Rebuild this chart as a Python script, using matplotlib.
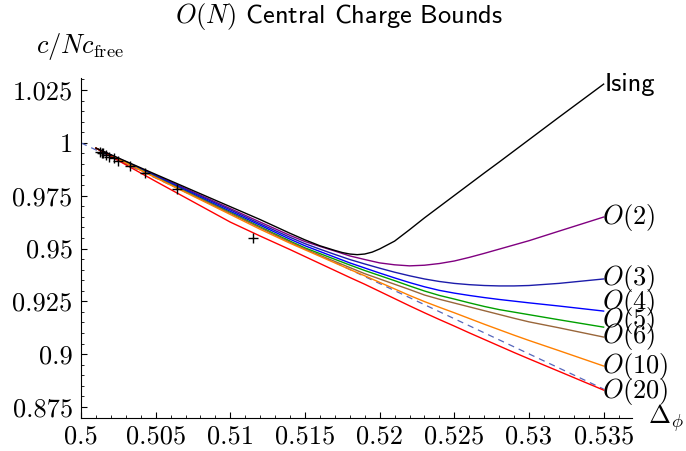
import matplotlib
matplotlib.use("Agg")
import matplotlib.pyplot as plt
from matplotlib.ticker import FixedLocator, MultipleLocator

plt.rcParams['mathtext.fontset'] = 'cm'
plt.rcParams['font.family'] = 'cmr10'
plt.rcParams['axes.unicode_minus'] = False

# Delta_phi grid the bounds were read on
x_grid = [0.501, 0.505, 0.510, 0.512, 0.514, 0.515, 0.516, 0.517, 0.518, 0.519,
          0.520, 0.521, 0.522, 0.523, 0.524, 0.525, 0.526, 0.527, 0.528, 0.529,
          0.530, 0.532, 0.535]

x_ising = [0.501, 0.505, 0.510, 0.512, 0.514, 0.515, 0.516, 0.517, 0.5175, 0.518, 0.5185,
           0.519, 0.5195, 0.520, 0.521, 0.522, 0.523, 0.524, 0.525, 0.526, 0.527, 0.528,
           0.529, 0.530, 0.532, 0.535]
c_ising = [0.9975, 0.9851, 0.9698, 0.9637, 0.9572, 0.9541, 0.9513, 0.9491, 0.9481, 0.9474, 0.9471,
           0.9474, 0.9483, 0.9498, 0.9535, 0.9589, 0.9645, 0.9698, 0.9751, 0.9804, 0.9857, 0.9909,
           0.9962, 1.0015, 1.0121, 1.0278]

c_o2 = [0.9975, 0.9847, 0.9689, 0.9625, 0.9562, 0.9533, 0.9510, 0.9488, 0.9465, 0.9448,
        0.9432, 0.9423, 0.9418, 0.9421, 0.9429, 0.9441, 0.9458, 0.9477, 0.9497, 0.9517,
        0.9537, 0.9582, 0.9649]
c_o3 = [0.9975, 0.9844, 0.9683, 0.9617, 0.9553, 0.9523, 0.9497, 0.9472, 0.9448, 0.9427,
        0.9407, 0.9388, 0.9371, 0.9356, 0.9344, 0.9335, 0.9329, 0.9325, 0.9323, 0.9323,
        0.9325, 0.9335, 0.9356]
c_o4 = [0.9975, 0.9841, 0.9676, 0.9610, 0.9544, 0.9513, 0.9486, 0.9459, 0.9432, 0.9408,
        0.9384, 0.9361, 0.9339, 0.9319, 0.9302, 0.9289, 0.9278, 0.9268, 0.9259, 0.9251,
        0.9243, 0.9228, 0.9204]
c_o5 = [0.9975, 0.9838, 0.9670, 0.9602, 0.9535, 0.9503, 0.9476, 0.9449, 0.9422, 0.9396,
        0.9372, 0.9348, 0.9323, 0.9299, 0.9278, 0.9261, 0.9243, 0.9226, 0.9211, 0.9199,
        0.9187, 0.9163, 0.9128]
c_o6 = [0.9975, 0.9837, 0.9667, 0.9598, 0.9530, 0.9498, 0.9468, 0.9439, 0.9410, 0.9381,
        0.9356, 0.9331, 0.9306, 0.9280, 0.9260, 0.9242, 0.9224, 0.9206, 0.9188, 0.9170,
        0.9153, 0.9125, 0.9081]
c_o10 = [0.9975, 0.9835, 0.9661, 0.9591, 0.9525, 0.9494, 0.9463, 0.9432, 0.9401, 0.9371,
         0.9340, 0.9309, 0.9278, 0.9249, 0.9222, 0.9196, 0.9169, 0.9142, 0.9116, 0.9090,
         0.9065, 0.9017, 0.8944]
c_o20 = [0.9975, 0.9818, 0.9625, 0.9559, 0.9495, 0.9462, 0.9429, 0.9396, 0.9363, 0.9331,
         0.9297, 0.9263, 0.9229, 0.9196, 0.9164, 0.9133, 0.9101, 0.9070, 0.9039, 0.9008,
         0.8978, 0.8919, 0.8830]

# large-N line
x_largeN = [0.5, 0.535]
c_largeN = [1.0, 0.8835]

# marked points
x_pts = [0.5013, 0.5014, 0.5015, 0.5017, 0.5019, 0.5022, 0.5025, 0.5033, 0.5043, 0.5064, 0.5115]
c_pts = [0.9959, 0.9954, 0.9950, 0.9942, 0.9935, 0.9928, 0.9914, 0.9890, 0.9857, 0.9782, 0.9550]

names = ['$O(2)$', '$O(3)$', '$O(4)$', '$O(5)$', '$O(6)$', '$O(10)$', '$O(20)$']
curves = [c_o2, c_o3, c_o4, c_o5, c_o6, c_o10, c_o20]
colors = ['#800080', '#1c1caa', '#0000ff', '#00a000', '#99663a', '#ff8000', '#ff0000']
label_shift = [0.0, 0.0, 0.004, 0.0033, 0.0005, 0.0, -0.0005]

xticks = [0.5, 0.505, 0.51, 0.515, 0.52, 0.525, 0.53, 0.535]
xticklabels = ['0.5', '0.505', '0.51', '0.515', '0.52', '0.525', '0.53', '0.535']
yticks = [0.875, 0.9, 0.925, 0.95, 0.975, 1.0, 1.025]
yticklabels = ['0.875', '0.9', '0.925', '0.95', '0.975', '1', '1.025']

fig = plt.figure(figsize=(6.86, 4.51), dpi=100)
ax = fig.add_axes([81/686, 1 - 418/451, (632 - 81)/686, (418 - 78)/451])

ax.plot(x_largeN, c_largeN, color='#5566bb', lw=0.9, dashes=(5, 4))
for c, col in zip(curves, colors):
    ax.plot(x_grid, c, color=col, lw=1.0)
ax.plot(x_ising, c_ising, color='black', lw=1.0)
ax.plot(x_pts, c_pts, '+', color='black', ms=7, mew=1.0)

ax.text(0.5351, c_ising[-1] - 0.0001, 'Ising', family='cmss10', fontsize=19,
        ha='left', va='center')
for name, c, dy in zip(names, curves, label_shift):
    ax.text(0.5349, c[-1] + dy, name, fontsize=19, ha='left', va='center')

ax.set_xlim(0.5, 0.5369)
ax.set_ylim(0.8698, 1.0307)

for s in ['top', 'right']:
    ax.spines[s].set_visible(False)
ax.xaxis.set_major_locator(FixedLocator(xticks))
ax.set_xticklabels(xticklabels)
ax.yaxis.set_major_locator(FixedLocator(yticks))
ax.set_yticklabels(yticklabels)
ax.xaxis.set_minor_locator(MultipleLocator(0.001))
ax.yaxis.set_minor_locator(MultipleLocator(0.005))
ax.tick_params(which='both', direction='in', labelsize=19)
ax.tick_params(which='major', length=4, width=0.8)
ax.tick_params(which='minor', length=2, width=0.6)
ax.tick_params(axis='x', pad=5)
ax.tick_params(axis='y', pad=6)

fig.text(80/686, 1 - 46/451, r'$c/Nc_{\rm free}$', fontsize=19, ha='center', va='center')
fig.text(648/686, 1 - 418/451, r'$\Delta_\phi$', fontsize=19, ha='left', va='center')
fig.text(339/686, 1 - 16/451, r'$O(N)$ Central Charge Bounds', family='cmss10',
         fontsize=19, ha='center', va='center')

fig.savefig('out.png', dpi=100)
